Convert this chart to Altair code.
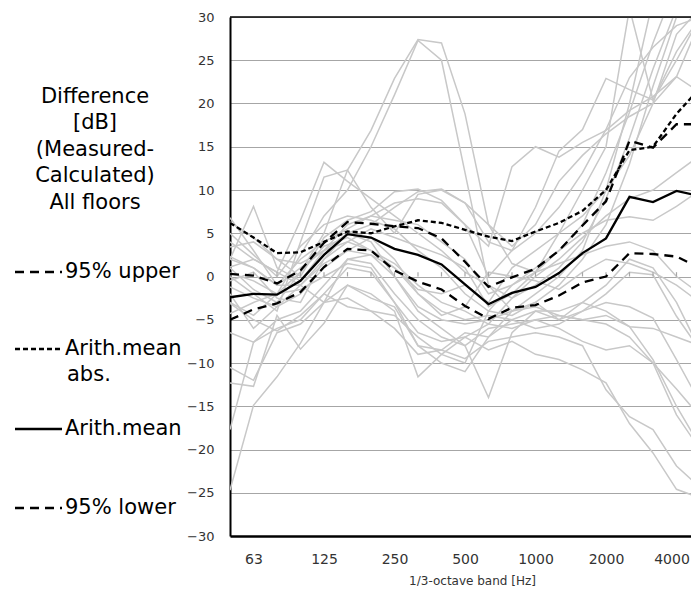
import altair as alt
import pandas as pd

bands = ["50", "63", "80", "100", "125", "160", "200", "250", "315", "400", "500",
         "630", "800", "1000", "1250", "1600", "2000", "2500", "3150", "4000", "5000"]
shown_bands = ["63", "125", "250", "500", "1000", "2000", "4000"]

upper95 = [0.3, 0.1, -0.8, 0.7, 3.9, 6.3, 6.1, 5.8, 5.6, 4.4, 1.7, -1.2, -0.1, 0.9, 3.0, 5.9, 8.7, 15.7, 14.9, 17.6, 17.6]
mean_abs = [6.2, 4.5, 2.7, 2.8, 4.0, 5.2, 5.0, 5.8, 6.5, 6.2, 5.4, 4.6, 4.1, 5.2, 6.2, 7.6, 10.0, 14.6, 15.0, 18.8, 21.8]
mean = [-2.4, -2.0, -2.1, -0.5, 2.5, 4.9, 4.5, 3.2, 2.5, 1.4, -0.9, -3.2, -1.9, -1.2, 0.4, 2.7, 4.4, 9.2, 8.6, 9.9, 9.3]
lower95 = [-5.0, -3.8, -3.1, -1.8, 1.1, 3.2, 3.0, 0.7, -0.6, -1.5, -3.4, -4.9, -3.6, -3.3, -2.2, -0.7, 0.0, 2.7, 2.6, 2.3, 1.0]

floors = [
    [1.0, -1.5, -3.0, 0.5, 5.0, 12.3, 16.9, 22.9, 27.4, 27.0, 18.8, 6.0, 1.5, 0.5, 3.0, 6.0, 12.0, 19.0, 27.0, 34.0, 38.0],
    [-3.0, -4.5, -2.0, 2.5, 7.0, 10.0, 15.0, 21.0, 27.3, 25.0, 12.0, -1.0, -4.0, -3.0, -5.0, -4.0, -3.0, -3.5, -4.8, -9.6, -14.6],
    [2.0, 1.0, -1.0, 1.0, 3.0, 5.0, 4.0, 0.0, -4.0, -6.0, -8.0, -14.0, -6.5, -4.0, -5.0, -3.0, -1.0, 2.0, 1.0, -3.0, -8.5],
    [4.0, 2.0, 0.5, 6.5, 13.2, 11.0, 9.0, 7.0, 5.0, 3.0, 0.5, -1.0, -2.5, -1.0, 1.0, 4.0, 9.0, 16.0, 24.0, 31.0, 35.0],
    [0.0, -2.0, -4.0, 4.0, 11.5, 12.3, 8.0, 5.0, 9.5, 10.0, 8.5, 4.0, 3.0, 5.0, 8.0, 12.0, 17.0, 23.0, 26.5, 29.0, 30.0],
    [6.8, 3.0, -1.0, -1.0, 2.0, 5.0, 6.0, 8.0, 9.8, 10.1, 8.5, 6.0, 3.5, 6.0, 11.0, 14.0, 16.5, 18.5, 20.0, 23.1, 21.3],
    [2.0, 8.1, 1.0, -0.5, 3.0, 6.0, 7.0, 6.5, 6.0, 4.0, 2.0, -2.0, -1.0, 1.0, 3.0, 5.0, 6.5, 6.9, 6.5, 8.1, 10.0],
    [-24.7, -14.9, -11.6, -7.7, -3.0, 2.0, 1.5, -2.0, -5.0, -7.0, -8.0, -6.0, -5.5, -5.0, -6.0, -7.5, -8.5, -8.0, -10.0, -16.0, -20.0],
    [-17.7, -7.6, -6.0, -5.0, -2.0, 1.0, 0.5, -3.0, -8.0, -10.0, -11.0, -7.0, -4.0, -3.5, -4.5, -5.0, -4.5, -5.8, -9.6, -15.0, -19.6],
    [-12.3, -12.7, -4.5, -8.4, -5.4, -1.0, -2.0, -4.0, -11.6, -9.0, -7.0, -8.5, -7.5, -9.0, -9.6, -10.8, -12.3, -17.0, -20.4, -24.6, -25.6],
    [-10.5, -12.0, -6.5, -5.5, -3.0, -1.0, -2.5, -3.5, -8.0, -8.5, -9.5, -7.5, -7.0, -6.5, -7.0, -8.0, -13.1, -16.2, -17.7, -21.9, -24.4],
    [-6.5, -7.6, -5.0, -4.0, -1.0, 2.0, 2.5, 0.0, -3.5, -5.0, -5.5, -5.0, -4.0, -2.0, 0.0, 3.0, 10.0, 20.0, 32.0, 36.0, 40.0],
    [5.0, 2.5, 0.0, 3.5, 6.0, 7.0, 6.5, 5.5, 3.0, 1.0, -2.0, -4.0, -4.5, -3.0, -1.0, 2.0, 6.0, 13.0, 22.0, 30.0, 33.0],
    [3.4, 4.0, 2.0, 0.0, 4.5, 6.5, 7.5, 9.8, 10.1, 8.8, 6.0, 0.0, 3.0, 8.0, 14.5, 17.0, 22.9, 21.6, 20.4, 25.0, 30.0],
    [-1.2, -2.5, -3.5, -2.0, 1.0, 3.0, 4.5, 2.0, -2.0, -4.0, -5.0, -4.5, -5.0, -6.0, -5.5, -4.0, -2.0, 0.5, 0.2, -4.6, -8.5],
    [-3.1, -5.0, -6.3, -4.5, -2.0, -3.5, -4.0, -6.0, -9.0, -8.5, -6.5, -7.0, -5.0, -4.0, -4.0, -3.0, -4.0, -5.8, -6.0, -7.0, -8.0],
    [0.4, -0.5, -2.0, 0.5, 3.5, 4.5, 3.0, 1.0, -1.5, -2.0, -1.0, -3.0, 1.0, 3.0, 5.0, 7.0, 10.0, 14.0, 20.0, 28.0, 31.0],
    [2.3, 1.0, -1.0, 2.0, 4.0, 5.5, 7.0, 8.5, 9.0, 8.5, 6.0, 3.5, 12.7, 15.0, 13.8, 15.5, 16.9, 19.2, 20.8, 23.1, 29.5],
    [-4.3, -3.0, -2.0, -1.5, 0.0, 1.5, 1.0, -3.0, -6.5, -7.5, -7.0, -5.5, -6.0, -5.0, -4.5, -5.0, -5.5, -7.0, -10.0, -13.0, -16.2],
    [1.1, 2.0, 0.5, -1.0, 1.5, 3.0, 2.5, 1.0, -2.0, -4.5, -3.5, 0.5, 0.0, -0.5, -1.5, 0.5, 2.0, 1.5, 0.5, -1.0, -3.0],
    [-0.5, 0.5, -2.5, -3.0, 2.0, 4.0, 5.5, 4.5, 3.5, 2.5, 1.0, -3.5, -2.0, 0.5, 5.0, 10.0, 15.0, 31.0, 20.4, 26.0, 30.0],
    [6.3, 4.5, 2.0, 1.5, 3.0, 4.0, 3.0, 1.5, -1.0, -3.0, -4.0, -5.5, -2.5, 0.0, 2.0, 4.5, 7.0, 9.0, 10.0, 12.0, 14.0],
    [-2.0, -6.0, -3.5, -1.0, -3.0, -2.5, -4.0, -4.5, -7.0, -9.0, -10.0, -4.0, -1.0, 0.5, 1.5, 2.5, 3.5, 4.0, 3.0, 0.0, -2.0],
]

title_lines = ["Difference", "[dB]", "(Measured-", "Calculated)", "All floors"]
legend_items = [("95% upper", None), ("Arith.mean", "abs."), ("Arith.mean", None), ("95% lower", None)]

W, H = 461, 519          # visible plot area (page is cut at the right edge)
XRANGE = 470             # full category span: 20 steps of 23.5 px
FONT = "DejaVu Sans"

rows = []
for i, vals in enumerate(floors):
    for b, v in zip(bands, vals):
        rows.append({"band": b, "value": v, "floor": f"f{i}"})
gray_df = pd.DataFrame(rows)

xscale = alt.Scale(type="point", domain=bands, padding=0, range=[0, XRANGE])
yscale = alt.Scale(domain=[-30, 30], nice=False, zero=False)

xenc = alt.X("band:O", scale=xscale, sort=bands,
             axis=alt.Axis(values=shown_bands, title="1/3-octave band [Hz]", labelAngle=0,
                           ticks=False, labelPadding=16, labelFontSize=14, labelFont=FONT,
                           labelColor="#333333",
                           labelOffset={"condition": {"test": "datum.value == '4000'", "value": -5}, "value": 0},
                           titleFont=FONT, titleFontSize=12,
                           titleFontWeight="normal", titleColor="#333333", titlePadding=9,
                           titleX=242, titleAnchor="middle",
                           domainColor="black", domainWidth=2.5, grid=False))
yenc = alt.Y("value:Q", scale=yscale,
             axis=alt.Axis(values=list(range(-30, 31, 5)), title=None, ticks=False,
                           labelPadding=16, labelFontSize=13, labelFont=FONT,
                           labelColor="#333333", domainColor="black", domainWidth=2,
                           gridColor="#a6a6a6", gridWidth=1.2))

gray = alt.Chart(gray_df).mark_line(color="#c8c8c8", strokeWidth=1.5, clip=True).encode(
    x=xenc, y=yenc, detail="floor:N")

def black_line(vals, dash):
    df = pd.DataFrame({"band": bands, "value": vals})
    kw = dict(color="black", strokeWidth=2.3, clip=True)
    if dash:
        kw["strokeDash"] = dash
    return alt.Chart(df).mark_line(**kw).encode(
        x=alt.X("band:O", scale=xscale, sort=bands),
        y=alt.Y("value:Q", scale=yscale))

l_up = black_line(upper95, [9, 6])
l_abs = black_line(mean_abs, [5, 3])
l_mean = black_line(mean, None)
l_low = black_line(lower95, [9, 6])

tick_df = pd.DataFrame({"band": bands})
ticks0 = alt.Chart(tick_df).mark_rule(color="#a6a6a6", strokeWidth=1.2, clip=True).encode(
    x=alt.X("band:O", scale=xscale, sort=bands), y=alt.datum(0), y2=alt.datum(0.5))

top_border = alt.Chart(tick_df.head(1)).mark_rule(color="black", strokeWidth=1.5).encode(
    x=alt.value(0), x2=alt.value(W), y=alt.value(0))

layers = [gray, ticks0, l_up, l_abs, l_mean, l_low, top_border]

# left-side annotation block
for k, line in enumerate(title_lines):
    layers.append(alt.Chart(pd.DataFrame({"t": [line]})).mark_text(
        font=FONT, fontSize=21, color="black", align="center", baseline="middle").encode(
        text="t:N", x=alt.value(-135), y=alt.value(80 + k * 26.4)))

legend_y = [255, 332, 412, 491]
legend_dash = [[9, 6], [5, 3], None, [9, 6]]
for (label, extra), ly, dash in zip(legend_items, legend_y, legend_dash):
    kw = dict(color="black", strokeWidth=2.3)
    if dash:
        kw["strokeDash"] = dash
    layers.append(alt.Chart(pd.DataFrame({"t": [label]})).mark_rule(**kw).encode(
        x=alt.value(-215), x2=alt.value(-168), y=alt.value(ly)))
    layers.append(alt.Chart(pd.DataFrame({"t": [label]})).mark_text(
        font=FONT, fontSize=21, color="black", align="left", baseline="middle").encode(
        text="t:N", x=alt.value(-165), y=alt.value(ly)))
    if extra:
        layers.append(alt.Chart(pd.DataFrame({"t": [extra]})).mark_text(
            font=FONT, fontSize=21, color="black", align="left", baseline="middle").encode(
            text="t:N", x=alt.value(-163), y=alt.value(ly + 26)))

chart = alt.layer(*layers).properties(
    width=W, height=H,
    autosize=alt.AutoSizeParams(type="none"),
    padding={"left": 222, "top": 9, "right": 0, "bottom": 50},
).configure_view(stroke=None).configure_axis(labelFlush=False)

chart.save("out.html", embed_options={"renderer": "svg", "actions": False})
